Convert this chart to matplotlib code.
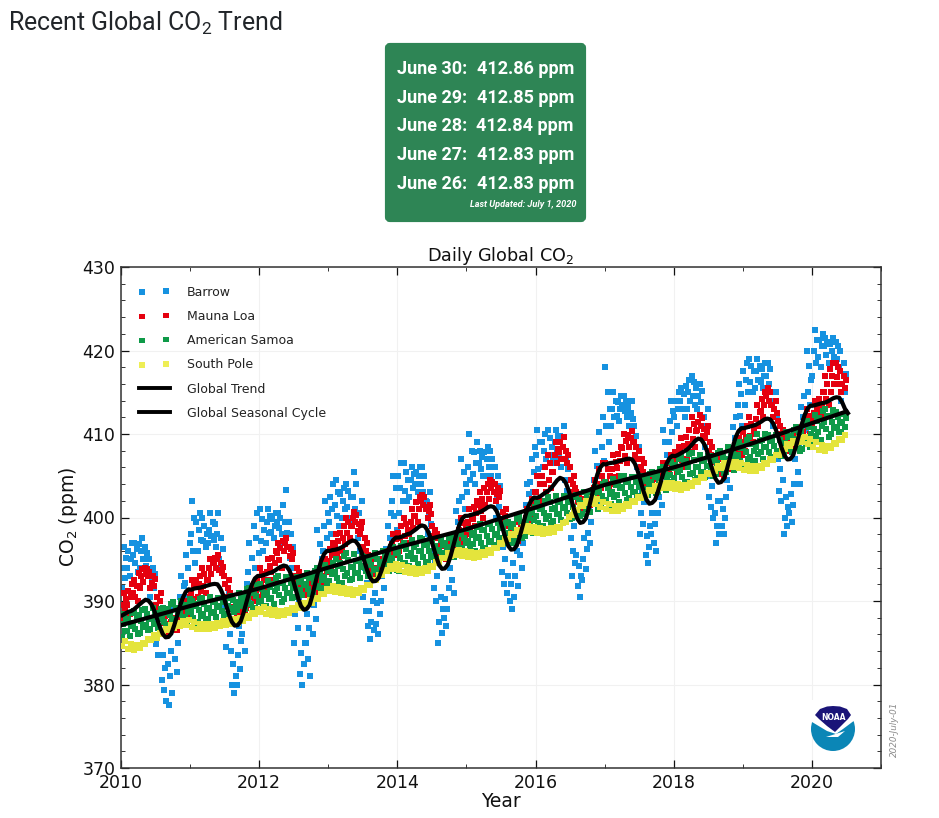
import numpy as np
import matplotlib
matplotlib.use("Agg")
import matplotlib.pyplot as plt
from matplotlib.lines import Line2D
from matplotlib.patches import FancyBboxPatch, Circle, Polygon

plt.rcParams['mathtext.default'] = 'regular'

HEADING = 'Recent Global CO$_2$ Trend'
DAILY_DATES = ['June 30:', 'June 29:', 'June 28:', 'June 27:', 'June 26:']
DAILY_PPM = ['412.86 ppm', '412.85 ppm', '412.84 ppm', '412.83 ppm', '412.83 ppm']
UPDATED = 'Last Updated: July 1, 2020'

barrow_lo = [391.5,393,393.5,394,393.5,390.5,383.5,378,377.5,381.5,387.5,390.5,
 394.5,396,396.5,397,396.5,393,384.5,379,380,384,390,394,
 396,397,397.5,398,397,394,385,380,381,386,392,396,
 398,399,400,400,399.5,396,387,385.5,386,390,395,398.5,
 400.5,402,402.5,403,402,398,390,385,387,391,396.5,401,
 403,404,405,405,404,400,392,389,390.5,394,398.5,403,
 404,406,406.5,407,406,402,393,390.5,392.5,397,401.5,405,
 409,411,411.5,412,411,406,398,394.5,396,400.5,405,409,
 411,412,413,413.5,413,408.5,400,397,398,402.5,407,411,
 413.5,415,415.5,415.5,415,411,402,398,399.5,404,409,413.5,
 417,418,418.5,418.5,418,414]
barrow_a = [392.8,394,394.5,395,394.2,391.5,384.8,379.3,379,383,389,392.2,
 396,397.3,397.2,397.8,397.3,394,386,380,381.8,386,391.8,395.8,
 397.2,398.2,398.3,398.8,398.2,395.2,386.8,381.2,383,387.8,393.5,397.5,
 399.5,400.2,401,401.2,401,397.5,388.8,386.5,387.2,391.5,396.2,400.2,
 402,403.2,403.5,404,403,399.2,391.5,386.2,388,392.5,398,402.5,
 404.5,405.2,405.8,406,405,401.2,393.5,390,391.8,395.5,400,404.2,
 405.8,407,407.5,408,407.2,403.2,394.5,391.8,393.8,398.2,403,406.8,
 411,412,412.2,412.8,411.8,407.2,399.2,395.5,397,401.5,406.2,410.2,
 412,413,414,414.5,413.8,409.8,401.2,398,399,403.5,408.2,412.2,
 415,416.2,416.5,416.2,416,412,403.2,399,400.5,405.5,410.5,415,
 418.5,419.2,419.5,419.2,419,415]
barrow_mid = [394,395,395.5,396,395,392.5,386,380.5,381,385,390.5,394,
 398,398.5,398,398.5,398,395,388,381,383.5,388,393.5,397.5,
 398.5,399.5,399,399.5,399.5,396.5,388.5,382.5,385,389.5,395,399,
 401,401.5,402,402.5,402.5,399,390.5,387.5,388.5,393,397.5,402,
 403.5,404.5,404.5,405,404,400.5,393,387.5,389,394,399.5,404,
 406,406.5,406.5,407,406,402.5,395,391,393,397,401.5,405.5,
 407.5,408,408.5,409,408.5,404.5,396,393,395,399.5,404.5,408.5,
 413,413,413,413.5,412.5,408.5,400.5,396.5,398,402.5,407.5,411.5,
 413,414,415,415.5,414.5,411,402.5,399,400,404.5,409.5,413.5,
 416.5,417.5,417.5,417,417,413,404.5,400,401.5,407,412,416.5,
 420,420.5,420.5,420,420,416]
barrow_b = [395.2,396,396.2,396.8,395.8,393.2,387.5,382,382.5,387,391.8,395.5,
 400,399.5,399,399.5,399.2,396.2,389.5,382.5,385.2,390,395.2,399,
 399.8,400.2,399.8,400,401.5,398,390.2,383.8,386.8,391.2,396.8,400.5,
 402.5,403,402.8,403.2,404,400.5,392.2,388.8,389.8,394.5,399,403.5,
 405,405.5,405.2,405.5,405,401.8,394.5,389,390.2,395.5,400.8,405.5,
 408,407.8,407.2,407.8,407,403.8,396.5,392,394.5,398.2,402.8,407,
 409,409,409.5,409.8,409.8,405.8,397.5,394.2,396.2,400.8,406.2,410.2,
 415,414,413.8,414,413.2,409.8,401.8,397.8,399.2,403.8,409,412.8,
 414,414.8,415.8,416.2,415.2,412,403.8,400.5,401,405.8,410.8,414.8,
 417.5,418.2,418.2,417.8,417.8,414,405.8,401.2,402.8,408.5,413.2,418.2,
 421.2,421.2,421,420.8,420.5,417.2]
barrow_hi = [396.5,397,397,397.5,396.5,394,389,383.5,384,389,393,397,
 402,400.5,400,400.5,400.5,397.5,391,384,387,392,397,400.5,
 401,401,400.5,400.5,403.3,399.5,392,385,388.5,393,398.5,402,
 404,404.5,403.5,404,405.5,402,394,390,391,396,400.5,405,
 406.5,406.5,406,406,406,403,396,390.5,391.5,397,402,407,
 410,409,408,408.5,408,405,398,393,396,399.5,404,408.5,
 410.5,410,410.5,410.5,411,407,399,395.5,397.5,402,408,412,
 418,415,414.5,414.5,414,411,403,399,400.5,405,410.5,414,
 415,415.5,416.5,417,416,413,405,402,402,407,412,416,
 418.5,419,419,418.5,418.5,415,407,402.5,404,410,414.5,420,
 422.5,422,421.5,421.5,421,418.5]

mlo_lo = [388,388.5,390,391.5,393,391.5,389,387,386.3,386.5,387,388,
 389.5,390.5,391,392.5,394,393,390.5,389,388.2,388.5,389,390,
 391,391.5,392.5,394,396,395,392,390.8,390.5,390.8,392,393,
 394,395,396,397.5,399,398,395.5,393.5,393,393.5,394.5,395.5,
 396,397,398,399.5,401,400,397.5,395.5,395,395.5,396.5,397.5,
 398,399,400,401.5,403,402,399.5,397.5,397,397.5,399,400,
 401,402,403.5,405.5,407,406,403,401.5,401,401.5,402.5,403.5,
 403.5,404,405,406.5,408.5,407,405,403.5,403,403.5,405,405.5,
 405.5,406,407,408.5,410.5,409.5,407,405.5,405,405.5,407,407.5,
 408,409,410,412,413.5,412,409.5,408,407.8,408.2,409,410,
 411,412,413.5,415,416,415]
mlo_a = [388.8,389.5,390.5,392.3,393.2,391.8,389.5,387.4,386.6,386.9,387.5,388.8,
 390.2,391.2,391.8,393.2,394.5,393.3,391,389.3,388.6,388.8,389.5,390.5,
 391.8,392.5,393.5,394.9,396.5,395.4,392.5,391.1,390.7,391.1,392.5,393.5,
 394.8,395.8,396.8,398.2,399.5,398.4,396,393.8,393.2,393.8,395,396.2,
 396.8,397.8,398.8,400.2,401.5,400.4,397.8,395.8,395.2,395.8,397,398.2,
 398.8,399.8,400.8,402.2,403.5,402.4,399.8,397.8,397.2,398,399.5,400.8,
 402,403,404.5,406.5,407.8,406.5,403.5,401.8,401.2,401.8,403,404.2,
 404.2,404.9,405.9,407.4,409,407.5,405.5,403.8,403.2,403.8,405.3,406,
 406.2,406.9,407.9,409.4,411,409.8,407.5,405.8,405.2,405.8,407.4,408,
 408.8,409.8,410.9,412.8,414,412.5,410,408.4,408,408.6,409.6,410.8,
 411.8,412.8,414.2,416,416.8,415.5]
mlo_mid = [389.5,390.5,391,393,393.5,392.2,390,387.8,387,387.3,388,389.5,
 391,392,392.5,394,395,393.7,391.5,389.7,389,389.2,390,391,
 392.5,393.5,394.5,395.8,397,395.8,393,391.4,391,391.5,393,394,
 395.5,396.5,397.5,399,400,398.8,396.5,394.2,393.5,394.2,395.5,396.8,
 397.5,398.5,399.5,401,402,400.8,398,396.2,395.5,396.2,397.5,398.8,
 399.5,400.5,401.5,403,404,402.8,400.2,398.2,397.5,398.5,400,401.5,
 403,404,405.5,407.5,408.5,407,404,402.2,401.5,402.2,403.5,405,
 405,405.8,406.8,408.3,409.5,408,406,404.2,403.5,404.2,405.7,406.5,
 407,407.8,408.8,410.3,411.4,410.2,408,406.2,405.5,406.2,407.8,408.5,
 409.5,410.5,411.8,413.5,414.5,413,410.5,408.8,408.4,409,410.2,411.5,
 412.5,413.5,415,417,417.5,416]
mlo_b = [390.2,391.2,391.8,393.4,393.8,392.6,390.5,388.2,387.2,387.6,388.5,390,
 391.8,392.5,393.2,394.5,395.2,394.1,392,390.1,389.2,389.6,390.5,391.8,
 393.2,394.2,395.2,396.4,397.2,396.2,393.5,391.7,391.2,392,393.5,394.5,
 396.2,397.2,398.2,399.5,400.3,399.2,397,394.6,393.8,394.6,396,397.4,
 398.2,399.2,400.2,401.8,402.4,401.2,398.5,396.6,395.8,396.6,398,399.4,
 400.2,401.2,402.2,403.5,404.2,403.2,400.6,398.6,397.8,399,400.5,402.2,
 404,405,406.5,408.2,409,407.5,404.5,402.6,401.8,402.6,404,405.8,
 405.8,406.6,407.6,409.2,409.9,408.5,406.5,404.6,403.8,404.6,406.1,407,
 407.8,408.6,409.6,411.2,411.9,410.6,408.5,406.6,405.8,406.6,408.2,409,
 410.2,411.2,412.6,414.2,415,413.5,411,409.2,408.7,409.5,410.8,412.2,
 413.2,414.2,416,417.8,418,416.5]
mlo_hi = [391,392,392.5,393.8,394,393,391,388.5,387.5,388,389,390.5,
 392.5,393,394,395,395.5,394.5,392.5,390.5,389.5,390,391,392.5,
 394,395,396,397,397.5,396.5,394,392,391.5,392.5,394,395,
 397,398,399,400,400.6,399.5,397.5,395,394,395,396.5,398,
 399,400,401,402.5,402.7,401.5,399,397,396,397,398.5,400,
 401,402,403,404,404.5,403.5,401,399,398,399.5,401,403,
 405,406,407.5,409,409.7,408,405,403,402,403,404.5,406.5,
 406.5,407.5,408.5,410,410.3,409,407,405,404,405,406.5,407.5,
 408.5,409.5,410.5,412,412.3,411,409,407,406,407,408.5,409.5,
 411,412,413.5,415,415.5,414,411.5,409.5,409,410,411.5,413,
 414,415,417,418.5,418.5,417]

samoa_lo = [385.7,385.8,386,386.2,386.5,386.6,386.8,387,387.1,387.3,387.4,387.5,
 387.4,387.5,387.7,387.9,388.1,388.3,388.5,388.7,388.9,389,389.1,389.2,
 389.3,389.4,389.7,389.9,390.2,390.3,390.5,390.7,390.8,391,391.2,391.5,
 391.7,392,392.2,392.5,392.6,392.8,393,393.1,393.2,393.4,393.6,393.7,
 393.6,393.9,394.2,394.4,394.6,394.7,394.8,395,395.1,395.3,395.5,395.7,
 395.9,396,396.2,396.4,396.6,396.7,396.9,397,397.2,397.5,397.8,398.2,
 398.6,399,399.4,399.6,399.7,399.8,400,400.2,400.4,400.7,401,401.2,
 401.4,401.6,401.9,402.1,402.3,402.5,402.6,402.7,402.9,403.1,403.3,403.6,
 403.9,404.1,404.3,404.5,404.7,404.9,405,405.2,405.3,405.5,405.7,406,
 406.3,406.5,406.8,407,407.2,407.3,407.4,407.6,407.8,408,408.2,408.5,
 409,409.3,409.7,410,410.2,410.2]
samoa_a = [386.4,386.4,386.7,386.9,387.1,387.3,387.3,387.5,387.7,387.9,388,388.1,
 388,388.2,388.4,388.6,388.7,388.8,389,389.2,389.4,389.6,389.7,389.9,
 390,390.2,390.4,390.7,390.9,390.9,391.1,391.3,391.4,391.7,391.8,392.2,
 392.4,392.8,393,393.3,393.4,393.4,393.6,393.7,393.8,394,394.3,394.4,
 394.4,394.6,395,395.2,395.3,395.3,395.4,395.6,395.7,395.9,396.1,396.3,
 396.5,396.8,397,397.1,397.2,397.4,397.5,397.6,397.9,398.2,398.5,399,
 399.4,399.8,400.2,400.4,400.4,400.5,400.6,400.8,401,401.3,401.7,401.9,
 402.1,402.4,402.7,402.9,403,403.1,403.2,403.4,403.6,403.8,404,404.3,
 404.7,404.9,405.2,405.3,405.4,405.5,405.6,405.8,406,406.3,406.5,406.8,
 407,407.3,407.6,407.8,407.9,408,408,408.2,408.5,408.7,408.9,409.3,
 409.8,410.2,410.6,410.7,410.8,410.8]
samoa_mid = [387.2,387,387.4,387.6,387.8,388,387.8,388,388.3,388.5,388.7,388.8,
 388.7,388.9,389,389.2,389.3,389.4,389.4,389.6,389.9,390.2,390.3,390.6,
 390.7,390.9,391.2,391.5,391.6,391.5,391.7,391.9,392,392.3,392.5,392.9,
 393.2,393.5,393.8,394.1,394.1,394.1,394.2,394.3,394.4,394.7,394.9,395.1,
 395.1,395.4,395.8,396,396,396,396,396.1,396.3,396.5,396.8,397,
 397.2,397.5,397.7,397.8,397.9,398,398.1,398.2,398.5,398.9,399.2,399.7,
 400.2,400.5,401,401.1,401.1,401.2,401.2,401.5,401.7,402,402.3,402.6,
 402.8,403.1,403.5,403.6,403.6,403.7,403.8,404,404.2,404.5,404.7,405.1,
 405.5,405.7,406,406.1,406.1,406.2,406.2,406.5,406.6,407,407.2,407.5,
 407.8,408,408.4,408.5,408.5,408.6,408.7,408.9,409.1,409.4,409.6,410,
 410.6,411,411.4,411.4,411.4,411.3]
samoa_b = [387.9,387.8,388.1,388.3,388.4,388.6,388.4,388.6,389,389.2,389.4,389.5,
 389.4,389.6,389.7,389.9,389.9,389.9,389.9,390.1,390.4,390.8,391,391.2,
 391.4,391.7,392,392.2,392.2,392.1,392.3,392.5,392.7,393,393.2,393.6,
 393.9,394.2,394.6,394.9,394.8,394.8,394.8,394.9,395,395.4,395.6,395.8,
 395.9,396.2,396.5,396.8,396.7,396.7,396.6,396.7,396.9,397.2,397.4,397.6,
 397.9,398.2,398.5,398.5,398.6,398.7,398.7,398.9,399.2,399.5,399.9,400.5,
 401,401.3,401.8,401.9,401.9,401.9,401.9,402.1,402.4,402.7,403,403.3,
 403.5,403.9,404.3,404.3,404.3,404.3,404.4,404.6,404.9,405.2,405.4,405.9,
 406.3,406.5,406.8,406.9,406.8,406.8,406.8,407.1,407.3,407.7,407.9,408.3,
 408.6,408.8,409.2,409.3,409.2,409.3,409.3,409.6,409.8,410.1,410.4,410.8,
 411.5,411.9,412.2,412.2,412,411.9]
samoa_hi = [388.5,388.6,388.8,388.9,389,389.2,389,389.2,389.6,389.9,390,390.2,
 390,390.2,390.3,390.5,390.4,390.4,390.3,390.6,391,391.4,391.6,391.9,
 392,392.4,392.7,393,392.9,392.8,392.9,393,393.3,393.6,393.9,394.3,
 394.6,395,395.4,395.7,395.6,395.4,395.3,395.4,395.7,396,396.3,396.5,
 396.6,397,397.3,397.5,397.4,397.3,397.2,397.3,397.5,397.8,398,398.3,
 398.6,398.9,399.2,399.2,399.2,399.3,399.3,399.5,399.8,400.2,400.6,401.2,
 401.7,402,402.5,402.6,402.6,402.5,402.5,402.7,403,403.3,403.7,404,
 404.3,404.6,405,405,404.9,404.9,405,405.2,405.5,405.8,406.1,406.6,
 407,407.3,407.6,407.7,407.5,407.4,407.4,407.7,408,408.4,408.6,409,
 409.3,409.6,410,410,409.9,409.9,409.9,410.2,410.5,410.8,411.1,411.6,
 412.3,412.8,413,412.9,412.6,412.4]

pole_hi = [385.2,384.9,384.7,385,385.4,385.9,386.2,386.6,387.1,387.4,387.6,387.7,
 387.5,387.3,387.2,387.3,387.4,387.6,387.7,387.8,388,388.2,388.6,389.1,
 389.3,389.1,388.9,388.8,388.9,389.2,389.5,389.8,390.1,390.4,390.8,391.4,
 391.8,391.7,391.5,391.4,391.3,391.5,391.9,392.5,393.1,393.7,394.2,394.4,
 394.3,394.1,393.9,393.8,393.9,394.2,394.7,395.2,395.7,396,396.1,396,
 395.9,395.8,395.9,396.1,396.4,396.9,397.4,398,398.5,398.9,399,398.9,
 398.7,398.6,398.7,398.9,399.4,400.1,400.9,401.5,402,402.3,402.2,401.9,
 401.6,401.4,401.4,401.6,402,402.4,402.9,403.3,403.8,404,404.1,404.1,
 404,403.9,404.1,404.4,404.9,405.3,405.8,406.2,406.5,406.7,406.7,406.5,
 406.3,406.2,406.2,406.5,407,407.5,408.1,408.8,409.2,409.5,409.6,409.4,
 409,408.7,408.6,408.9,409.4,409.9]
pole_lo = [384.6,384.3,384.1,384.4,384.8,385.3,385.6,386,386.5,386.8,387,387.1,
 386.9,386.7,386.6,386.7,386.8,387,387.1,387.2,387.4,387.6,388,388.5,
 388.7,388.5,388.3,388.2,388.3,388.6,388.9,389.2,389.5,389.8,390.2,390.8,
 391.2,391.1,390.9,390.8,390.7,390.9,391.3,391.9,392.5,393.1,393.6,393.8,
 393.7,393.5,393.3,393.2,393.3,393.6,394.1,394.6,395.1,395.4,395.5,395.4,
 395.3,395.2,395.3,395.5,395.8,396.3,396.8,397.4,397.9,398.3,398.4,398.3,
 398.1,398,398.1,398.3,398.8,399.5,400.3,400.9,401.4,401.7,401.6,401.3,
 401,400.8,400.8,401,401.4,401.8,402.3,402.7,403.2,403.4,403.5,403.5,
 403.4,403.3,403.5,403.8,404.3,404.7,405.2,405.6,405.9,406.1,406.1,405.9,
 405.7,405.6,405.6,405.9,406.4,406.9,407.5,408.2,408.6,408.9,409,408.8,
 408.4,408.1,408,408.3,408.8,409.3]

trend_years = [2010,2011,2012,2013,2014,2015,2016,2017,2018,2019,2020,2020.5]
trend_vals = [387.1,389.4,391.5,394.0,396.4,398.6,401.2,403.9,406.0,408.5,411.3,412.7]

seasonal = [388.3,388.5,388.7,388.8,389.0,389.3,389.6,389.9,390.15,390.05,389.65,388.9,387.9,386.9,386.05,385.65,385.7,386.1,387.1,388.25,389.45,390.4,391.1,391.4,
 391.35,391.5,391.55,391.6,391.7,391.8,391.9,392.0,392.05,392.0,391.5,390.7,389.5,388.4,387.5,387.05,387.1,387.5,388.5,389.75,391.0,392.0,392.7,393.0,
 393.0,393.1,393.2,393.35,393.45,393.65,393.9,394.1,394.25,394.15,393.65,392.8,391.6,390.4,389.4,388.95,389.05,389.5,390.7,392.15,393.6,394.8,395.6,396.0,
 396.0,396.1,396.15,396.25,396.4,396.6,396.85,397.1,397.25,397.15,396.7,395.9,394.8,393.7,392.8,392.35,392.4,392.75,393.65,394.75,395.8,396.7,397.3,397.6,
 397.6,397.7,397.85,398.0,398.1,398.35,398.6,398.9,399.05,398.95,398.45,397.6,396.45,395.3,394.3,393.85,393.9,394.35,395.4,396.7,398.0,399.1,399.85,400.2,
 400.2,400.3,400.4,400.5,400.6,400.8,401.0,401.25,401.35,401.25,400.75,399.9,398.75,397.6,396.6,396.15,396.2,396.65,397.7,399.0,400.25,401.35,402.05,402.4,
 402.35,402.5,402.75,403.0,403.2,403.55,404.0,404.45,404.75,404.6,404.15,403.25,402.05,400.85,399.85,399.35,399.45,399.9,401.1,402.55,404.0,405.2,406.0,406.4,
 406.35,406.5,406.55,406.6,406.7,406.8,406.9,407.0,407.05,406.95,406.45,405.55,404.35,403.15,402.15,401.65,401.75,402.1,403.1,404.25,405.45,406.45,407.1,407.4,
 407.35,407.5,407.7,407.9,408.1,408.4,408.8,409.2,409.45,409.35,408.85,408.0,406.8,405.6,404.65,404.15,404.25,404.65,405.8,407.1,408.45,409.6,410.35,410.7,
 410.7,410.8,410.9,411.0,411.1,411.3,411.5,411.75,411.85,411.75,411.3,410.5,409.4,408.3,407.4,406.95,407.0,407.45,408.55,409.85,411.2,412.3,413.05,413.4,
 413.4,413.5,413.6,413.7,413.75,413.9,414.1,414.3,414.4,414.35,413.8,413.0,412.5]

half_months = 2010 + (np.arange(len(seasonal)) + 0.5) / 24
idx = np.arange(len(barrow_mid))
m = 2010 + (idx + 0.5) / 12
step = 1 / 12

BLUE, RED, GREEN, YELLOW = '#1692E0', '#E5000F', '#0E9A48', '#E4E43C'

fig = plt.figure(figsize=(9.39, 8.18), dpi=100, facecolor='white')
ax = fig.add_axes([121/939, 50/818, 760/939, 501/818])

def pts(series, row, color, z, s=19):
    # each row of a month sits on its own day within that month, changing from month to month
    slot = (idx * 2 + row * 3) % 5 - 2
    ax.scatter(m + slot * 0.2 * step, series, s=s, marker='s', c=color, linewidths=0, zorder=z)

for row, ser in enumerate((barrow_lo, barrow_a, barrow_mid, barrow_b, barrow_hi)):
    pts(ser, row, BLUE, 2)
for row, ser in enumerate((mlo_lo, mlo_a, mlo_mid, mlo_b, mlo_hi)):
    pts(ser, row, RED, 3)
for row, ser in enumerate((samoa_lo, samoa_a, samoa_mid, samoa_b, samoa_hi)):
    pts(ser, row, GREEN, 4, s=16)
ax.scatter(m - 0.25 * step, pole_lo, s=16, marker='s', c=YELLOW, linewidths=0, zorder=5)
ax.scatter(m + 0.25 * step, pole_hi, s=16, marker='s', c=YELLOW, linewidths=0, zorder=5)

ax.plot(trend_years, trend_vals, color='black', lw=3, zorder=6)
ax.plot(half_months, seasonal, color='black', lw=3, zorder=7, solid_joinstyle='round')

ax.set_xlim(2010, 2021)
ax.set_ylim(370, 430)
ax.set_xticks(range(2010, 2021, 2))
ax.set_xticks(range(2010, 2022), minor=True)
ax.set_yticks(range(370, 431, 10))
ax.set_yticks(range(370, 431, 2), minor=True)
ax.grid(True, which='major', color='#f1f1f1', lw=0.8, zorder=0)
ax.set_axisbelow(True)
ax.tick_params(which='major', direction='in', length=6, width=0.9, top=True, right=True,
               labelsize=12.5, colors='#111111', pad=4)
ax.tick_params(which='minor', direction='in', length=3, width=0.7, top=True, right=True,
               color='#333333')
for sp in ax.spines.values():
    sp.set_color('#333333')
    sp.set_linewidth(1.1)
ax.set_xlabel('Year', fontsize=13.5, labelpad=0, color='#111111')
ax.set_ylabel('CO$_2$ (ppm)', fontsize=13.5, labelpad=1.6, color='#111111')
ax.set_title('Daily Global CO$_2$', fontsize=12.7, pad=3, color='#111111')

handles = [
    ax.scatter([], [], s=16, marker='s', c=BLUE, linewidths=0),
    ax.scatter([], [], s=16, marker='s', c=RED, linewidths=0),
    ax.scatter([], [], s=16, marker='s', c=GREEN, linewidths=0),
    ax.scatter([], [], s=16, marker='s', c='#EEEE55', linewidths=0),
    Line2D([], [], color='black', lw=2.8),
    Line2D([], [], color='black', lw=2.8),
]
labels = ['Barrow', 'Mauna Loa', 'American Samoa', 'South Pole', 'Global Trend', 'Global Seasonal Cycle']
ax.legend(handles, labels, loc='upper left', bbox_to_anchor=(0.0, 0.998), frameon=False,
          scatterpoints=2, fontsize=9, labelspacing=0.9, handlelength=2.5, handletextpad=1.36,
          borderpad=0.7, borderaxespad=0.7, labelcolor='#222222')

ov = fig.add_axes([0, 0, 1, 1], facecolor='none')
ov.set_xlim(0, 939)
ov.set_ylim(818, 0)
ov.axis('off')
ov.set_zorder(10)

ov.text(8, 31, HEADING, family='Roboto', fontsize=17.9, color='#212529', va='baseline', ha='left')
ov.add_patch(FancyBboxPatch((387, 45), 197, 175, boxstyle='round,pad=0,rounding_size=3',
                            mutation_aspect=1, fc='#2E8555', ec='#2E8555', lw=3))
for d, p, y in zip(DAILY_DATES, DAILY_PPM, (74, 103, 131, 160, 189)):
    ov.text(467, y, d, family='Roboto', weight='bold', fontsize=13, color='white', ha='right', va='baseline')
    ov.text(574, y, p, family='Roboto', weight='bold', fontsize=13, color='white', ha='right', va='baseline')
ov.text(576, 207, UPDATED, family='Roboto', weight='bold', style='italic', fontsize=6.6, color='white',
        ha='right', va='baseline')

ov.add_patch(Circle((833, 729), 22, fc='#0B86B6', ec='none'))
ov.add_patch(Polygon([(805, 700), (861, 700), (861, 716), (855, 720), (843, 729), (836, 734),
                      (827, 731), (812, 722), (805, 718)], closed=True, fc='white', ec='none'))
ov.add_patch(Polygon([(826, 737), (845, 731), (838, 737)], closed=True, fc='white', ec='none'))
ov.add_patch(Polygon([(815, 715), (820, 709), (827, 706.5), (833, 706), (840, 706.5), (847, 709),
                      (851, 715), (848, 719), (841, 726), (835, 732), (827, 726), (819, 719)],
                     closed=True, fc='#1A1478', ec='none'))
ov.text(833, 717, 'NOAA', color='white', fontsize=5.5, weight='bold', ha='center', va='center')
ov.text(894, 757, '2020-July-01', rotation=90, style='italic', fontsize=6.3, color='#8a8a8a',
        ha='center', va='bottom')

fig.savefig('out.png', dpi=100, facecolor='white')
